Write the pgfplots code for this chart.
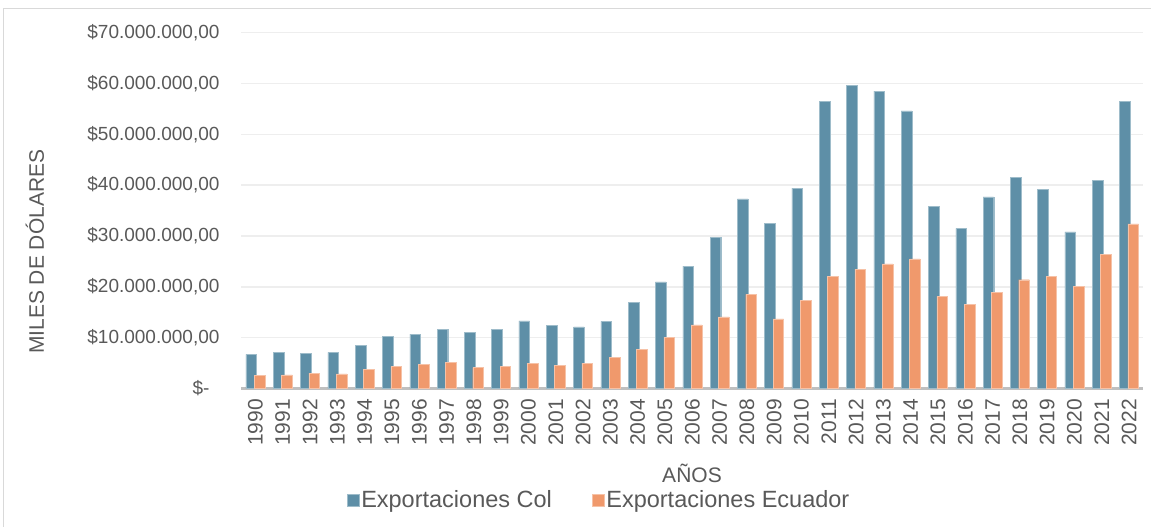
\documentclass[border=0pt]{standalone}
\usepackage{pgfplots}
\pgfplotsset{compat=1.18}
\usepackage{fontspec}
\setmainfont{Liberation Sans}
\definecolor{col}{RGB}{94,143,167}
\definecolor{ecu}{RGB}{240,153,108}
\definecolor{txt}{RGB}{89,89,89}
\definecolor{gridc}{RGB}{238,238,238}
\definecolor{basec}{RGB}{191,191,191}
\definecolor{framec}{RGB}{217,217,217}
\begin{document}
\begin{tikzpicture}
\useasboundingbox (0,0) rectangle (1151pt,527pt);
\draw[framec, line width=1pt] (3pt,0pt) -- (3pt,518pt) -- (1151pt,518pt);
\begin{axis}[
  at={(241pt,138.5pt)}, anchor=south west, scale only axis,
  width=902pt, height=355.8pt,
  ybar, bar width=0.39,
  xmin=-0.53, xmax=32.51, ymin=0, ymax=70,
  axis line style={draw=none},
  major tick length=0pt,
  /pgf/number format/assume math mode=true,
  xtick={0,...,32},
  xticklabels={1990,1991,1992,1993,1994,1995,1996,1997,1998,1999,2000,2001,2002,2003,2004,2005,2006,2007,2008,2009,2010,2011,2012,2013,2014,2015,2016,2017,2018,2019,2020,2021,2022},
  xticklabel style={rotate=90, anchor=east, font=\fontsize{21}{23}\selectfont, text=txt, xshift=-7pt},
  ytick={0,10,20,30,40,50,60,70},
  yticklabels={{\$-\hspace*{10pt}},{\$10.000.000,00},{\$20.000.000,00},{\$30.000.000,00},{\$40.000.000,00},{\$50.000.000,00},{\$60.000.000,00},{\$70.000.000,00}},
  yticklabel style={font=\fontsize{19}{21}\selectfont, text=txt, xshift=-18pt},
  ymajorgrids, grid style={gridc, line width=1.5pt},
  extra y ticks={0}, extra y tick labels={},
  extra y tick style={grid style={basec, line width=3pt}},
  xlabel={AÑOS},
  xlabel style={at={(axis description cs:0.5,0)}, anchor=center, yshift=-84.5pt, font=\fontsize{21}{23}\selectfont, text=txt},
  ylabel={MILES DE DÓLARES},
  ylabel style={at={(axis description cs:-0.2284,0.384)}, anchor=center, font=\fontsize{21}{23}\selectfont, text=txt},
  legend columns=2,
  legend style={at={(axis description cs:0.397,0)}, anchor=center, yshift=-111.5pt, draw=none, fill=none,
    font=\fontsize{23.5}{25}\selectfont, text=txt,
    /tikz/every even column/.append style={column sep=38pt},
    nodes={inner sep=2pt}},
  legend image code/.code={\fill[#1] (-2pt,-6pt) rectangle (10pt,6pt);},
]
\addplot[fill=col, draw=col!60!white, line width=0.4pt, bar shift=-0.153] coordinates {
(0,6.7)(1,7.1)(2,6.9)(3,7.1)(4,8.5)(5,10.3)(6,10.7)(7,11.6)(8,11.0)(9,11.7)(10,13.3)
(11,12.4)(12,12.1)(13,13.2)(14,16.9)(15,21.0)(16,24.1)(17,29.7)(18,37.3)(19,32.5)(20,39.4)
(21,56.5)(22,59.7)(23,58.5)(24,54.6)(25,35.8)(26,31.5)(27,37.7)(28,41.6)(29,39.2)(30,30.8)
(31,41.0)(32,56.5)};
\addlegendentry{Exportaciones Col}
\addplot[fill=ecu, draw=ecu!60!white, line width=0.4pt, bar shift=0.153] coordinates {
(0,2.6)(1,2.7)(2,3.0)(3,2.9)(4,3.8)(5,4.3)(6,4.8)(7,5.2)(8,4.1)(9,4.3)(10,4.9)
(11,4.6)(12,5.0)(13,6.1)(14,7.7)(15,10.1)(16,12.5)(17,14.1)(18,18.5)(19,13.7)(20,17.3)
(21,22.0)(22,23.5)(23,24.5)(24,25.5)(25,18.1)(26,16.5)(27,18.9)(28,21.4)(29,22.0)(30,20.1)
(31,26.4)(32,32.4)};
\addlegendentry{Exportaciones Ecuador}
\end{axis}
\end{tikzpicture}
\end{document}
